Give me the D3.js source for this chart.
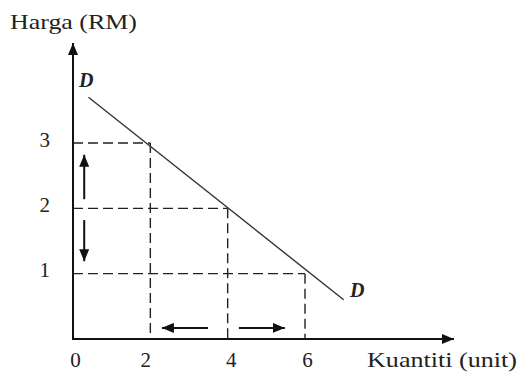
<!DOCTYPE html>
<html>
<head>
<meta charset="utf-8">
<script src="https://cdn.jsdelivr.net/npm/d3@7"></script>
<style>
body { margin: 0; background: #fff; }
svg text { font-family: "Liberation Serif", "Times New Roman", serif; fill: #222; }
</style>
</head>
<body>
<div id="chart"></div>
<script>
// values
const qtyTicks = [0, 2, 4, 6];
const priceTicks = [1, 2, 3];
const pointQty = [2, 4, 6];
const pointPrice = [3, 2, 1];
const demandQty = [0.4, 7];
const demandPrice = [3.7, 0.6];
// movement arrows: [qtyFrom, priceFrom, qtyTo, priceTo]
const moveArrows = [
  [0.29, 2.14, 0.29, 2.82],
  [0.29, 1.82, 0.29, 1.19],
  [3.49, 0.17, 2.3, 0.17],
  [4.29, 0.17, 5.48, 0.17]
];

(function(){
const width = 522, height = 373;
const svg = d3.select('#chart').append('svg').attr('width', width).attr('height', height);

const x = d3.scaleLinear().domain([0, 6]).range([73, 305]);
const y = d3.scaleLinear().domain([0, 3]).range([339, 143]);

const defs = svg.append('defs');
defs.append('marker').attr('id', 'head')
  .attr('viewBox', '0 0 12 10').attr('refX', 12).attr('refY', 5)
  .attr('markerUnits', 'userSpaceOnUse')
  .attr('markerWidth', 12).attr('markerHeight', 10).attr('orient', 'auto')
  .append('path').attr('d', 'M0,0 L12,5 L0,10 Z').attr('fill', '#111');

// dashed guides
const pts = pointQty.map((q, i) => [q, pointPrice[i]]);
const guides = svg.append('g').attr('stroke', '#222').attr('stroke-width', 1.4)
  .attr('stroke-dasharray', '10,5').attr('fill', 'none');
guides.selectAll('.h').data(pts).enter().append('line')
  .attr('x1', x(0)).attr('x2', d => x(d[0]))
  .attr('y1', d => y(d[1])).attr('y2', d => y(d[1]));
guides.selectAll('.v').data(pts).enter().append('line')
  .attr('x1', d => x(d[0])).attr('x2', d => x(d[0]))
  .attr('y1', d => y(d[1])).attr('y2', y(0));

// demand line
svg.append('line')
  .attr('x1', x(demandQty[0])).attr('y1', y(demandPrice[0]))
  .attr('x2', x(demandQty[1])).attr('y2', y(demandPrice[1]))
  .attr('stroke', '#333').attr('stroke-width', 1.4);

// axes lines with arrows
svg.append('line').attr('x1', x(0)).attr('y1', y(0)).attr('x2', x(0)).attr('y2', 43)
  .attr('stroke', '#111').attr('stroke-width', 2).attr('marker-end', 'url(#head)');
svg.append('line').attr('x1', x(0) - 1).attr('y1', y(0)).attr('x2', 454).attr('y2', y(0))
  .attr('stroke', '#111').attr('stroke-width', 2).attr('marker-end', 'url(#head)');

// tick labels
const xAxis = svg.append('g').attr('transform', `translate(0,${y(0)})`)
  .call(d3.axisBottom(x).tickValues(qtyTicks).tickFormat(d3.format('d')).tickSize(0).tickPadding(13));
xAxis.select('.domain').remove();
xAxis.attr('font-family', null).attr('font-size', null);
xAxis.selectAll('text').style('font-size', '21px').attr('dx', d => [2, -5, 3, 2][qtyTicks.indexOf(d)]);

const yAxis = svg.append('g').attr('transform', `translate(${x(0)},0)`)
  .call(d3.axisLeft(y).tickValues(priceTicks).tickFormat(d3.format('d')).tickSize(0).tickPadding(23));
yAxis.select('.domain').remove();
yAxis.attr('font-family', null).attr('font-size', null);
yAxis.selectAll('text').style('font-size', '21px').attr('dy', '0.15em');

// movement arrows
svg.append('g').selectAll('line').data(moveArrows).enter().append('line')
  .attr('x1', d => x(d[0])).attr('y1', d => y(d[1]))
  .attr('x2', d => x(d[2])).attr('y2', d => y(d[3]))
  .attr('stroke', '#111').attr('stroke-width', 2).attr('marker-end', 'url(#head)');

// labels
svg.append('text').attr('x', 10).attr('y', 29)
  .attr('textLength', 127).attr('lengthAdjust', 'spacingAndGlyphs')
  .style('font-size', '21px').text('Harga (RM)');
svg.append('text').attr('x', 367).attr('y', 367)
  .attr('textLength', 150).attr('lengthAdjust', 'spacingAndGlyphs')
  .style('font-size', '22px').text('Kuantiti (unit)');
svg.append('text').attr('x', 79).attr('y', 87)
  .style('font-size', '20px').style('font-weight', 'bold').style('font-style', 'italic').text('D');
svg.append('text').attr('x', 350).attr('y', 297)
  .style('font-size', '20px').style('font-weight', 'bold').style('font-style', 'italic').text('D');
})();
</script>
</body>
</html>
